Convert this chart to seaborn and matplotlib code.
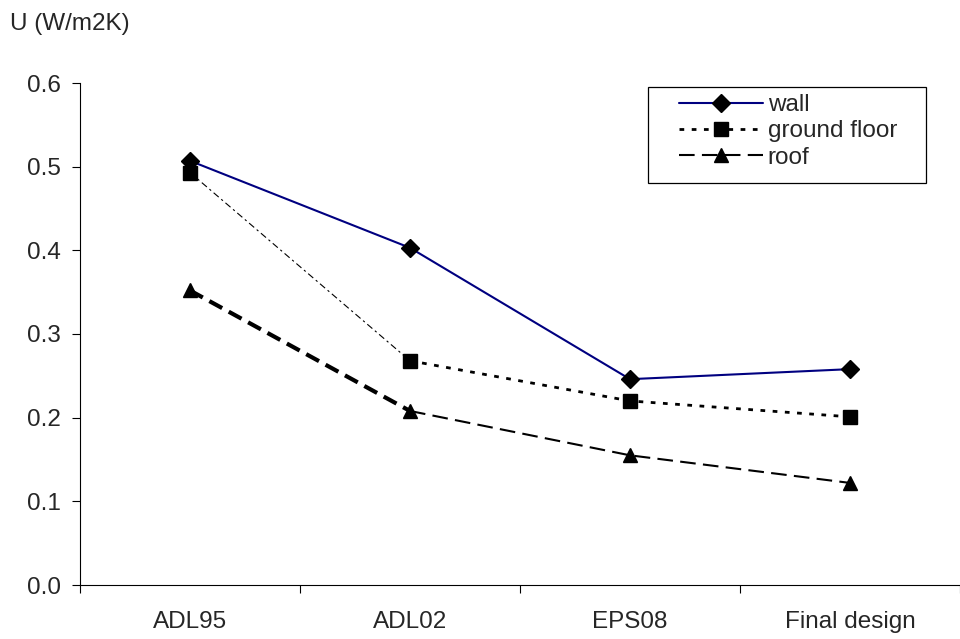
import matplotlib
matplotlib.use("Agg")
import matplotlib.pyplot as plt
import seaborn as sns
import numpy as np
from matplotlib.lines import Line2D
from matplotlib.patches import Rectangle

categories = ["ADL95", "ADL02", "EPS08", "Final design"]
wall = [0.507, 0.403, 0.246, 0.258]
ground_floor = [0.493, 0.268, 0.220, 0.201]
roof = [0.352, 0.208, 0.155, 0.122]
yticks = [0.0, 0.1, 0.2, 0.3, 0.4, 0.5, 0.6]

sns.set_style("white")
plt.rcParams['font.family'] = ['Liberation Sans', 'DejaVu Sans']

FS = 17.5
fig = plt.figure(figsize=(9.6, 6.39), dpi=100)
ax = fig.add_axes([80/960, 1-585/639, 1-80/960, (585-83)/639])

x = np.arange(len(categories))

dot_ls = (0, (1.7, 2.7))
dash_ls = (0, (7.5, 3.5))

# wall
sns.lineplot(x=x, y=wall, ax=ax, color="#000080", lw=1.5)
ax.plot(x, wall, ls='none', marker='D', ms=9, color='black', zorder=5)

# ground floor: first segment thin dash-dot, rest dotted
sns.lineplot(x=x[:2], y=ground_floor[:2], ax=ax, color='black', lw=0.8, linestyle=(0, (6, 3, 2, 3)))
sns.lineplot(x=x[1:], y=ground_floor[1:], ax=ax, color='black', lw=2.0, linestyle=dot_ls)
ax.plot(x, ground_floor, ls='none', marker='s', ms=9.5, color='black', zorder=5)

# roof: first segment thick dashes, rest thinner dashes
sns.lineplot(x=x[:2], y=roof[:2], ax=ax, color='black', lw=3.0, linestyle=(0, (3.5, 1.8)))
sns.lineplot(x=x[1:], y=roof[1:], ax=ax, color='black', lw=1.5, linestyle=dash_ls)
ax.plot(x, roof, ls='none', marker='^', ms=10, color='black', zorder=5)

ax.set_xlim(-0.5, 3.5)
ax.set_ylim(0, 0.6)
ax.set_yticks(yticks)
ax.set_yticklabels([f"{v:.1f}" for v in yticks], fontsize=FS)
ax.set_xticks(x)
ax.set_xticklabels(categories, fontsize=FS)
ax.set_xticks(np.arange(-0.5, 3.6, 1.0), minor=True)
ax.tick_params(axis='x', which='major', length=0, pad=19)
ax.tick_params(axis='x', which='minor', length=6, width=0.8, color='black', direction='out', bottom=True)
ax.tick_params(axis='y', which='major', length=6, width=0.8, color='black', direction='out', left=True, pad=8)

for s in ['top', 'right']:
    ax.spines[s].set_visible(False)
for s in ['left', 'bottom']:
    ax.spines[s].set_color('black')
    ax.spines[s].set_linewidth(0.8)
ax.grid(False)

fig.text(10/960, 1-24/639, "U (W/m2K)", fontsize=FS, va='center', ha='left')

# legend box
fig.add_artist(Rectangle((648/960, 1-183/639), (926-648)/960, (183-87)/639,
                         transform=fig.transFigure, fill=False, edgecolor='black', lw=0.9))

handles = [
    Line2D([], [], color='#000080', lw=1.5, marker='D', ms=9, mfc='black', mec='black'),
    Line2D([], [], color='black', lw=2.0, linestyle=dot_ls, marker='s', ms=9.5),
    Line2D([], [], color='black', lw=1.5, linestyle=dash_ls, marker='^', ms=10),
]
leg = ax.legend(handles, ["wall", "ground floor", "roof"], loc='upper left',
                bbox_to_anchor=(679/960, 1-94/639), bbox_transform=fig.transFigure,
                frameon=False, fontsize=FS, handlelength=3.45,
                handletextpad=0.2, labelspacing=0.18, borderpad=0, borderaxespad=0)

fig.savefig("out.png", dpi=100)
